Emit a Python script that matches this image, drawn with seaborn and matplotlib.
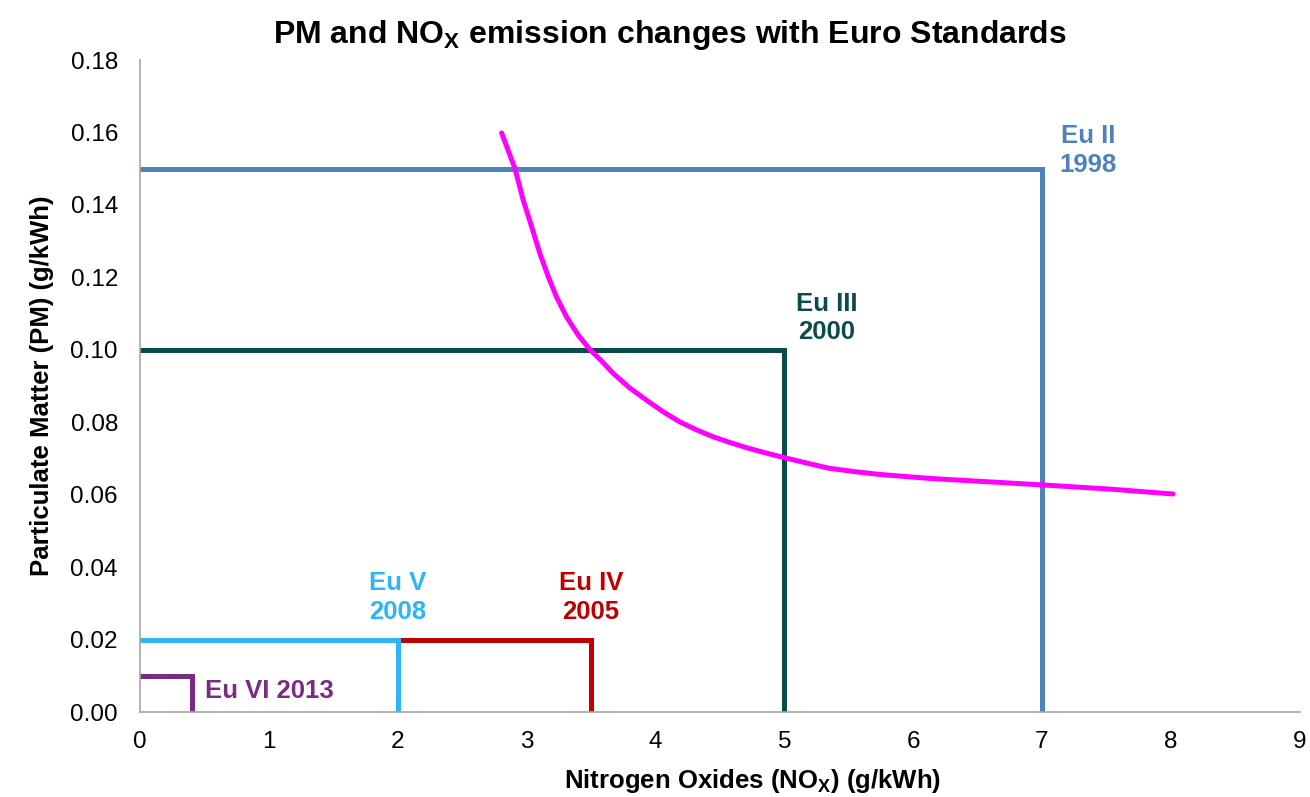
import matplotlib
matplotlib.use("Agg")
import matplotlib.pyplot as plt
import seaborn as sns
import pandas as pd

# Euro standards limits (NOx g/kWh, PM g/kWh)
standards = ["Eu II", "Eu III", "Eu IV", "Eu V", "Eu VI"]
years = ["1998", "2000", "2005", "2008", "2013"]
nox_limit = [7.0, 5.0, 3.5, 2.0, 0.4]
pm_limit = [0.15, 0.10, 0.02, 0.02, 0.01]
colors = ["#4F81BD", "#0B4B4B", "#C00000", "#2DB5F8", "#7A2B83"]

# trade-off curve
curve_nox = [2.806, 2.909, 2.974, 3.039, 3.103, 3.168, 3.232, 3.310, 3.400, 3.491,
             3.580, 3.672, 3.800, 3.931, 4.060, 4.190, 4.320, 4.448, 4.580, 4.707,
             4.850, 5.004, 5.180, 5.350, 5.540, 5.740, 6.130, 6.520, 7.008, 7.550, 8.017]
curve_pm = [0.1599, 0.1501, 0.1413, 0.1340, 0.1266, 0.1202, 0.1146, 0.1091, 0.1041, 0.1001,
            0.0970, 0.0935, 0.0895, 0.0861, 0.0829, 0.0801, 0.0779, 0.0760, 0.0744, 0.0730,
            0.0716, 0.0702, 0.0687, 0.0673, 0.0664, 0.0656, 0.0645, 0.0637, 0.0627, 0.0615, 0.0602]

sns.set_style("white")
plt.rcParams['font.family'] = ['Liberation Sans', 'DejaVu Sans']
plt.rcParams['mathtext.fontset'] = 'custom'
plt.rcParams['mathtext.rm'] = 'Liberation Sans'
plt.rcParams['mathtext.bf'] = 'Liberation Sans:bold'
plt.rcParams['text.color'] = 'black'
plt.rcParams['axes.labelcolor'] = 'black'
plt.rcParams['xtick.color'] = 'black'
plt.rcParams['ytick.color'] = 'black'

fig = plt.figure(figsize=(13.1, 7.97), dpi=100)
ax = fig.add_axes([0.107, 0.1066, 0.885, 0.818])

for name, yr, x, y, c in zip(standards, years, nox_limit, pm_limit, colors):
    box = pd.DataFrame({"x": [0, x, x], "y": [y, y, 0]})
    sns.lineplot(data=box, x="x", y="y", sort=False, estimator=None, color=c,
                 linewidth=3.6, ax=ax, solid_joinstyle="miter")

curve = pd.DataFrame({"nox": curve_nox, "pm": curve_pm})
sns.lineplot(data=curve, x="nox", y="pm", sort=False, estimator=None,
             color="#FF00FF", linewidth=3.6, ax=ax, solid_capstyle="round",
             solid_joinstyle="round")

lab_kw = dict(fontsize=18.5, fontweight="bold", ha="center", va="center", linespacing=1.25)
ax.text(7.36, 0.155, "Eu II\n1998", color=colors[0], **lab_kw)
ax.text(5.33, 0.1088, "Eu III\n2000", color=colors[1], **lab_kw)
ax.text(3.5, 0.0317, "Eu IV\n2005", color=colors[2], **lab_kw)
ax.text(2.0, 0.0317, "Eu V\n2008", color=colors[3], **lab_kw)
ax.text(0.5, 0.0058, "Eu VI 2013", color=colors[4], fontsize=18.5, fontweight="bold",
        ha="left", va="center")

ax.set_xlim(0, 9)
ax.set_ylim(0, 0.18)
ax.set_xticks(range(0, 10))
ax.set_yticks([i * 0.02 for i in range(10)])
ax.set_yticklabels([f"{i * 0.02:.2f}" for i in range(10)])
ax.tick_params(axis="both", length=0, labelsize=17.5)
ax.tick_params(axis="y", pad=16)
ax.tick_params(axis="x", pad=14)
for s in ["top", "right"]:
    ax.spines[s].set_visible(False)
for s in ["left", "bottom"]:
    ax.spines[s].set_color("#A6A6A6")
    ax.spines[s].set_linewidth(1.2)

ax.set_xlabel(r"Nitrogen Oxides (NO$_\mathbf{X}$) (g/kWh)", fontsize=18.5, fontweight="bold",
              labelpad=10, x=0.528)
ax.set_ylabel("Particulate Matter (PM) (g/kWh)", fontsize=18.5, fontweight="bold", labelpad=12)
ax.set_title(r"PM and NO$_\mathbf{X}$ emission changes with Euro Standards", fontsize=23,
             fontweight="bold", pad=12, x=0.457)

fig.savefig("out.png", dpi=100)
